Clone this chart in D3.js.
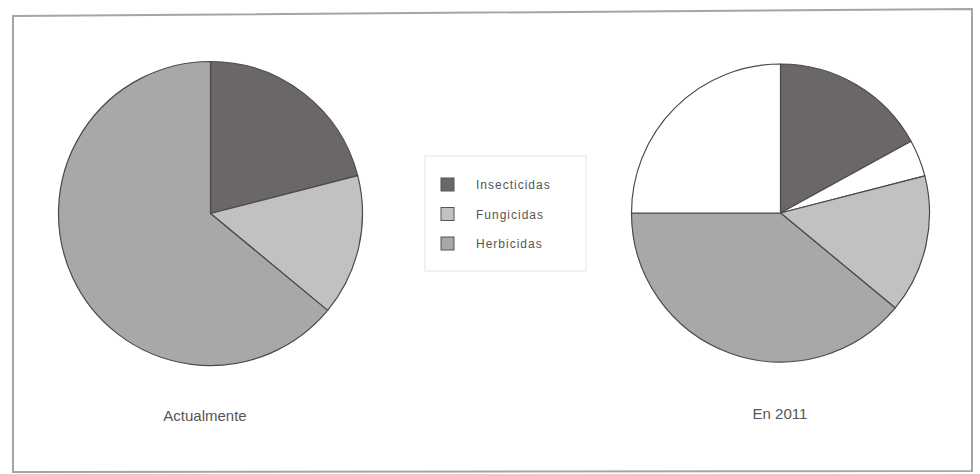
<!DOCTYPE html>
<html>
<head>
<meta charset="utf-8">
<script src="https://cdn.jsdelivr.net/npm/d3@7/dist/d3.min.js"></script>
<style>
  html, body { margin: 0; padding: 0; background: #fff; }
  svg { display: block; }
</style>
</head>
<body>
<svg id="chart" width="980" height="474"></svg>
<script>
// ---- data ----
const categories = ["Insecticidas", "Fungicidas", "Herbicidas"];
const colors = ["#6b6767", "#c2c1c1", "#a9a8a8"];
const pieTitles = ["Actualmente", "En 2011"];
// slice keys (null = unlabelled white slice)
const keysActual = ["Insecticidas", "Fungicidas", "Herbicidas"];
const valuesActual = [21, 15, 64];
const keys2011 = ["Insecticidas", null, "Fungicidas", "Herbicidas", null];
const values2011 = [17, 4, 15, 39, 25];

const svg = d3.select("#chart");
const color = d3.scaleOrdinal().domain(categories).range(colors).unknown("#ffffff");

// outer frame
svg.append("path")
  .attr("d", "M13,16 L972,9 L972,471 L13,472 Z")
  .attr("fill", "none").attr("stroke", "#a5a5a5").attr("stroke-width", 2);

const pie = d3.pie().sort(null).value(d => d.v);
const arc = d3.arc().innerRadius(0);

const pies = [
  { cx: 210.5, cy: 213.5, r: 152, keys: keysActual, vals: valuesActual, title: pieTitles[0], tx: 205, ty: 421 },
  { cx: 780.5, cy: 213, r: 149, keys: keys2011, vals: values2011, title: pieTitles[1], tx: 780, ty: 419 }
];

pies.forEach(p => {
  const data = p.keys.map((k, i) => ({ k, v: p.vals[i] }));
  const g = svg.append("g").attr("transform", `translate(${p.cx},${p.cy})`);
  g.selectAll("path").data(pie(data)).join("path")
    .attr("d", d => arc.outerRadius(p.r)(d))
    .attr("fill", d => color(d.data.k))
    .attr("stroke", "#4a4a4a").attr("stroke-width", 1.2)
    .attr("stroke-linejoin", "round");
  svg.append("text")
    .attr("x", p.tx).attr("y", p.ty)
    .attr("text-anchor", "middle")
    .attr("font-family", "Liberation Sans, Arial, sans-serif")
    .attr("font-size", 15).attr("fill", "#555")
    .text(p.title);
});

// legend
const lg = svg.append("g");
lg.append("rect").attr("x", 425).attr("y", 156).attr("width", 161).attr("height", 115)
  .attr("fill", "#fff").attr("stroke", "#e4e4e4").attr("stroke-width", 1);
const ly = d3.scalePoint().domain(categories).range([185, 244]);
categories.forEach(c => {
  lg.append("rect").attr("x", 441).attr("y", ly(c) - 7).attr("width", 13).attr("height", 13)
    .attr("fill", color(c)).attr("stroke", "#555").attr("stroke-width", 1);
  lg.append("text").attr("x", 476).attr("y", ly(c) + 4)
    .attr("font-family", "Liberation Sans, Arial, sans-serif")
    .attr("font-size", 12).attr("letter-spacing", 1).attr("fill", "#555")
    .text(c);
});
</script>
</body>
</html>
